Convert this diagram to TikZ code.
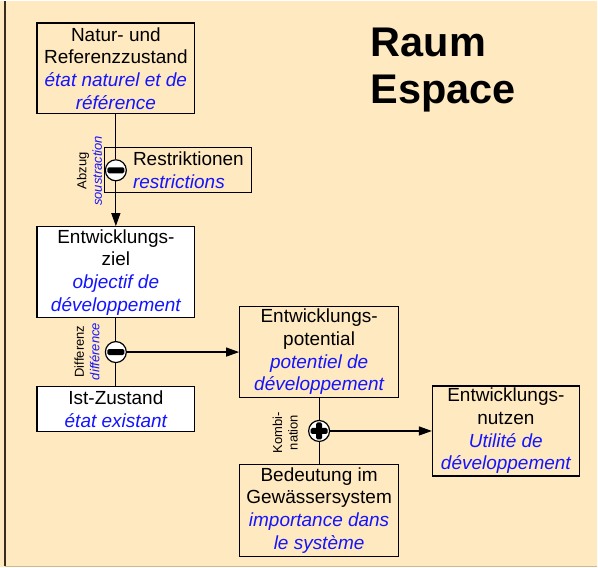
\documentclass[tikz,border=0pt]{standalone}
\usepackage{fontspec}
\setmainfont{Liberation Sans}
\usetikzlibrary{arrows.meta}

\definecolor{sand}{RGB}{255,233,192}
\definecolor{rim}{RGB}{205,185,145}
\definecolor{edge}{RGB}{55,45,30}
\definecolor{frblue}{RGB}{20,20,255}

\newcommand{\frtxt}[1]{\textcolor{frblue}{\itshape #1}}
\newcommand{\boxfont}{\fontsize{19pt}{22.7pt}\selectfont}
\newcommand{\smallfont}{\fontsize{13pt}{15.5pt}\selectfont}
\newcommand{\titlefont}{\fontsize{41.5pt}{47pt}\selectfont\bfseries}

\begin{document}
\begin{tikzpicture}[x=1pt,y=-1pt,
  >={Triangle[length=13pt,width=9pt]},
  box/.style={draw, line width=1.2pt, fill=sand, minimum width=158pt,
    minimum height=91pt, inner sep=0pt, align=center, font=\boxfont},
  link/.style={line width=1.2pt},
  opsign/.style={circle, draw, line width=1.2pt, fill=white,
    minimum size=21pt, inner sep=0pt},
  opminus/.style={opsign, path picture={
      \fill[black, rounded corners=1.5pt]
      ([xshift=-8.5pt,yshift=-3pt]path picture bounding box.center) rectangle
      ([xshift=8.5pt,yshift=3pt]path picture bounding box.center);}},
  opplus/.style={opsign, path picture={
      \fill[black, rounded corners=1.5pt]
      ([xshift=-8.5pt,yshift=-3pt]path picture bounding box.center) rectangle
      ([xshift=8.5pt,yshift=3pt]path picture bounding box.center);
      \fill[black, rounded corners=1.5pt]
      ([xshift=-3pt,yshift=-8.5pt]path picture bounding box.center) rectangle
      ([xshift=3pt,yshift=8.5pt]path picture bounding box.center);}},
  oplabel/.style={rotate=90, align=center, inner sep=0pt, font=\smallfont}]

  %% background and frame
  \fill[sand] (0,0) rectangle (598,567);
  \draw[edge, line width=2pt] (5.5,0) -- (5.5,566);
  \draw[rim, line width=1.5pt] (5,566) -- (598,566);

  \node[anchor=north west, inner sep=0pt, align=left, font=\titlefont]
    (raum) at (371,27) {Raum\\Espace};

  %% boxes
  \node[box] (natur) at (116,67.5) {Natur- und\\Referenzzustand\\
    \frtxt{état naturel et de}\\\frtxt{référence}};
  \node[box, minimum width=147pt, minimum height=45pt] (restr) at (178.5,169.5) {};
  \node[anchor=west, align=left, inner sep=0pt, font=\boxfont]
    (restrtxt) at (133,169.5) {Restriktionen\\\frtxt{restrictions}};
  \node[box, fill=white] (ziel) at (116,271.5) {Entwicklungs-\\ziel\\
    \frtxt{objectif de}\\\frtxt{développement}};
  \node[box, fill=white, minimum height=45pt] (ist) at (116,408.5)
    {Ist-Zustand\\\frtxt{état existant}};
  \node[box, minimum width=159pt] (potential) at (319.5,351.5)
    {Entwicklungs-\\potential\\\frtxt{potentiel de}\\\frtxt{développement}};
  \node[box, minimum width=159pt, minimum height=92pt] (bedeutung) at (319.5,510)
    {Bedeutung im\\Gewässersystem\\\frtxt{importance dans}\\\frtxt{le système}};
  \node[box, minimum width=147pt, minimum height=90pt] (nutzen) at (506.5,430.5)
    {Entwicklungs-\\nutzen\\\frtxt{Utilité de}\\\frtxt{développement}};

  %% operators
  \node[opminus] (abzug) at (116,169.5) {};
  \node[opminus] (diff) at (116,351.5) {};
  \node[opplus] (komb) at (319.5,430.5) {};

  \node[oplabel] (abzuglbl) at (89.5,170) {Abzug\\\frtxt{soustraction}};
  \node[oplabel] (difflbl) at (87,351) {Differenz\\\frtxt{différence}};
  \node[oplabel] (komblbl) at (285.5,432) {Kombi-\\nation};

  %% connectors
  \draw[link] (natur) -- (abzug);
  \draw[link,->] (abzug) -- (ziel);
  \draw[link] (ziel) -- (diff);
  \draw[link] (diff) -- (ist);
  \draw[link,->] (diff) -- (potential);
  \draw[link] (potential) -- (komb);
  \draw[link] (komb) -- (bedeutung);
  \draw[link,->] (komb) -- (nutzen);

\end{tikzpicture}
\end{document}
